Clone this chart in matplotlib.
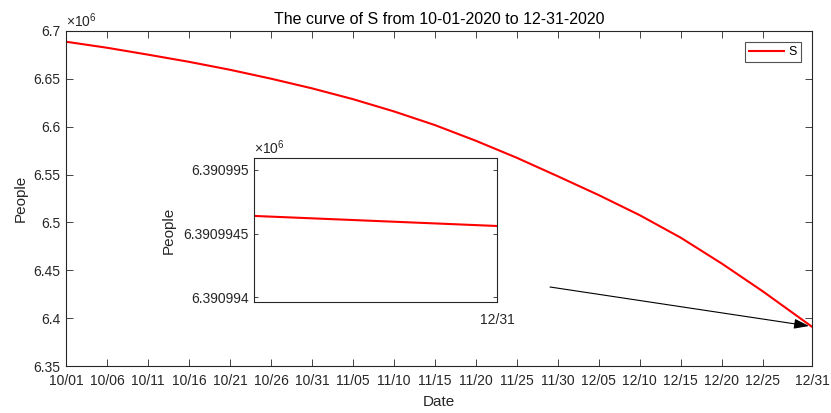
import numpy as np
import pandas as pd
import matplotlib
matplotlib.use("Agg")
import matplotlib.pyplot as plt
import matplotlib.dates as mdates
from matplotlib.ticker import FuncFormatter

plt.rcParams['font.family'] = ['Liberation Sans', 'DejaVu Sans']
plt.rcParams['mathtext.fontset'] = 'custom'
plt.rcParams['mathtext.rm'] = 'Liberation Sans'
plt.rcParams['mathtext.it'] = 'Liberation Sans'

# data
dates = ['2020-10-01', '2020-10-06', '2020-10-11', '2020-10-16', '2020-10-21',
         '2020-10-26', '2020-10-31', '2020-11-05', '2020-11-10', '2020-11-15',
         '2020-11-20', '2020-11-25', '2020-11-30', '2020-12-05', '2020-12-10',
         '2020-12-15', '2020-12-20', '2020-12-25', '2020-12-31']
S = [6688800, 6682500, 6675300, 6667800, 6659500,
     6650200, 6640100, 6628800, 6616000, 6601700,
     6585300, 6567500, 6548200, 6528500, 6507500,
     6484000, 6457000, 6428000, 6390994.56]

# inset: the last ~second of 12/31
inset_sec = [-1.2, 0.0]
inset_S = [6390994.639, 6390994.56]

main_yticks = [6.35e6, 6.4e6, 6.45e6, 6.5e6, 6.55e6, 6.6e6, 6.65e6, 6.7e6]
inset_yticks = [6390994, 6390994.5, 6390995]

dark = '#262626'
dates = pd.to_datetime(dates)
xticks = list(pd.date_range('2020-10-01', periods=18, freq='5D')) + [pd.Timestamp('2020-12-31')]

fig = plt.figure(figsize=(8.31, 4.13), dpi=100)
ax = fig.add_axes([66/831, 1-366/413, (812-66)/831, (366-31)/413])
ax.plot(dates, S, color='red', lw=1.5, label='S')
ax.set_xlim(dates[0], dates[-1])
ax.set_ylim(6.35e6, 6.7e6)
ax.set_xticks(xticks)
ax.xaxis.set_major_formatter(mdates.DateFormatter('%m/%d'))
ax.set_yticks(main_yticks)
ax.yaxis.set_major_formatter(FuncFormatter(lambda v, p: '%g' % round(v/1e6, 4)))
ax.tick_params(direction='in', top=True, right=True, length=5, width=0.6,
               colors=dark, labelsize=10, pad=4)
ax.tick_params(axis='x', pad=6)
for sp in ax.spines.values():
    sp.set_color(dark)
    sp.set_linewidth(0.8)
ax.set_title('The curve of S from 10-01-2020 to 12-31-2020', fontsize=11.5, color='black', pad=5)
ax.set_xlabel('Date', fontsize=11, color=dark, labelpad=5)
ax.set_ylabel('People', fontsize=11, color=dark, labelpad=4)
ax.text(0.0, 1.004, '×10$^{6}$', transform=ax.transAxes, fontsize=10, color=dark,
        ha='left', va='bottom')
leg = ax.legend(loc='upper right', fontsize=9, fancybox=False, handlelength=2.8,
                borderpad=0.3, handletextpad=0.4, borderaxespad=0.9)
leg.get_frame().set_edgecolor(dark)
leg.get_frame().set_linewidth(0.8)

ax.annotate('', xy=(809, 413-326), xycoords='figure pixels',
            xytext=(550, 413-287), textcoords='figure pixels',
            arrowprops=dict(arrowstyle='-|>,head_length=0.9,head_width=0.3',
                            color='black', lw=0.8, shrinkA=0, shrinkB=0))

axi = fig.add_axes([254/831, 1-302/413, (497-254)/831, (302-158)/413])
axi.plot(inset_sec, inset_S, color='red', lw=1.5)
axi.set_xlim(inset_sec[0], inset_sec[-1])
axi.set_ylim(6390993.963, 6390995.094)
axi.set_xticks([0.0])
axi.set_xticklabels(['12/31'])
axi.set_yticks(inset_yticks)
axi.yaxis.set_major_formatter(FuncFormatter(lambda v, p: '%.8g' % (v/1e6)))
axi.tick_params(direction='in', top=True, right=True, length=3, width=0.6,
                colors=dark, labelsize=10, pad=4)
axi.tick_params(axis='x', pad=8)
for sp in axi.spines.values():
    sp.set_color(dark)
    sp.set_linewidth(0.8)
axi.set_ylabel('People', fontsize=11, color=dark, labelpad=5)
axi.text(0.0, 1.004, '×10$^{6}$', transform=axi.transAxes, fontsize=10, color=dark,
         ha='left', va='bottom')

fig.savefig('out.png', dpi=100)
